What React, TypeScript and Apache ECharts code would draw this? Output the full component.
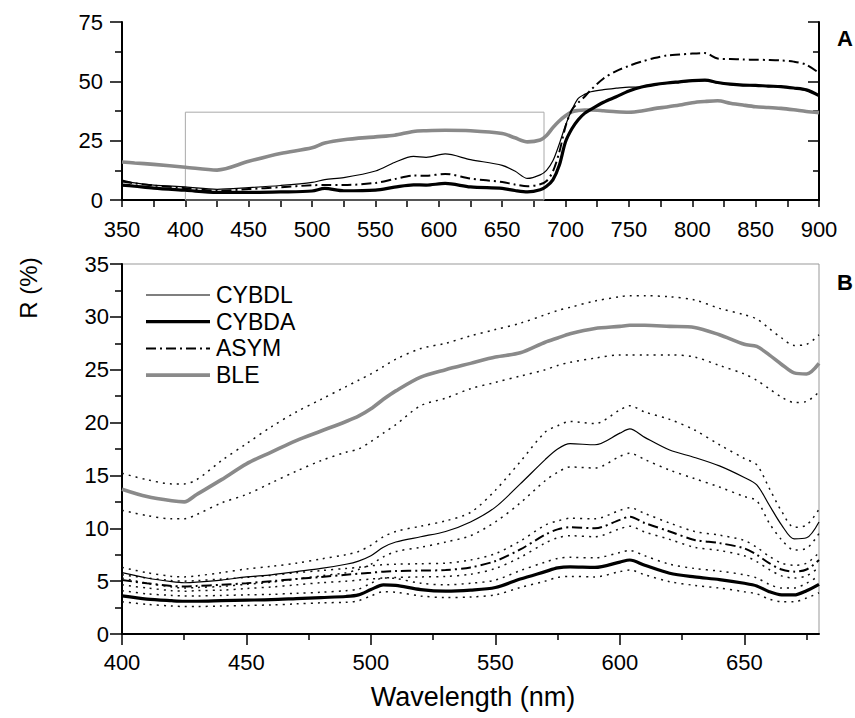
import React, { useEffect, useRef } from 'react';
import * as echarts from 'echarts';

// ---------- Panel A (350–900 nm) ----------
const wlA = [350, 360, 375, 400, 425, 450, 475, 500, 510, 525, 550, 565, 580, 590, 605, 625, 650, 660, 670, 680, 685, 690, 695, 700, 705, 710, 715, 720, 730, 740, 750, 760, 770, 780, 790, 800, 810, 820, 830, 840, 850, 860, 870, 880, 890, 900];
const bleA = [16.0, 15.6, 15.0, 13.8, 12.6, 16.3, 19.6, 22.0, 24.0, 25.4, 26.6, 27.3, 28.9, 29.2, 29.4, 29.2, 28.0, 26.2, 24.5, 25.3, 27.2, 30.5, 33.3, 35.5, 37.2, 37.7, 37.9, 37.9, 37.6, 37.2, 37.0, 37.5, 38.5, 39.2, 40.0, 41.0, 41.5, 41.8, 40.8, 40.0, 39.3, 39.0, 38.6, 38.0, 37.3, 36.8];
const cybdaA = [6.3, 5.8, 5.0, 4.1, 3.2, 3.2, 3.4, 3.8, 4.9, 3.9, 4.2, 5.4, 6.4, 6.3, 7.0, 5.5, 4.9, 4.0, 3.4, 4.3, 5.8, 8.5, 14.5, 24.5, 30.0, 33.8, 36.5, 38.2, 41.2, 43.5, 45.9, 47.6, 48.6, 49.3, 49.8, 50.3, 50.5, 49.5, 48.8, 48.4, 48.3, 48.0, 47.8, 47.2, 46.4, 44.0];
const cybdlA = [8.4, 7.2, 6.3, 5.5, 4.5, 5.2, 6.1, 7.4, 8.6, 9.4, 12.2, 15.8, 18.4, 18.0, 19.4, 17.0, 14.6, 12.2, 9.1, 10.6, 12.5, 16.5, 23.5, 31.5, 38.0, 42.8, 44.5, 45.6, 46.5, 47.1, 47.6, 47.6, 48.4, 49.1, 49.6, 50.1, 50.3, 49.3, 48.6, 48.2, 48.1, 47.8, 47.6, 47.0, 46.2, 43.8];
const asymA = [7.8, 7.0, 6.1, 5.0, 3.9, 4.6, 5.4, 6.2, 6.3, 6.3, 7.2, 8.8, 10.3, 10.2, 11.0, 9.0, 7.6, 6.5, 5.8, 6.6, 8.0, 12.0, 20.0, 31.0, 38.0, 41.0, 43.5, 46.4, 51.2, 54.3, 56.5, 58.3, 59.8, 60.9, 61.3, 61.7, 61.9, 59.6, 59.4, 59.2, 59.1, 59.0, 58.8, 58.3, 57.0, 53.5];
const zoomBoxX = [400, 683];
const zoomBoxY = [0, 37];

// ---------- Panel B (400–680 nm) ----------
const wlB = [400, 410, 420, 425, 430, 440, 450, 460, 470, 480, 490, 495, 500, 505, 510, 520, 530, 540, 550, 560, 570, 575, 580, 590, 600, 604, 610, 620, 630, 640, 650, 655, 660, 665, 670, 675, 680];
const bleB = [13.7, 13.0, 12.6, 12.5, 13.2, 14.6, 16.1, 17.2, 18.3, 19.2, 20.1, 20.6, 21.3, 22.2, 23.0, 24.3, 25.0, 25.6, 26.2, 26.6, 27.6, 28.0, 28.4, 28.9, 29.1, 29.2, 29.2, 29.1, 29.0, 28.3, 27.4, 27.2, 26.4, 25.5, 24.7, 24.6, 25.6];
const bleBHi = [15.2, 14.6, 14.2, 14.2, 14.6, 16.4, 18.0, 19.6, 21.0, 22.2, 23.4, 24.0, 24.6, 25.3, 26.0, 27.0, 27.5, 28.2, 28.8, 29.4, 30.2, 30.6, 30.9, 31.5, 31.9, 32.0, 32.0, 31.9, 31.6, 30.8, 30.2, 29.8, 28.9, 28.0, 27.3, 27.4, 28.3];
const bleBLo = [11.7, 11.2, 10.9, 10.9, 11.3, 12.4, 13.2, 14.3, 15.4, 16.4, 17.2, 17.5, 18.2, 19.0, 19.8, 21.6, 22.3, 23.2, 23.8, 24.4, 25.0, 25.4, 25.7, 26.1, 26.4, 26.4, 26.4, 26.4, 26.2, 25.4, 24.6, 24.0, 23.2, 22.4, 21.9, 22.0, 22.9];
const cybdlB = [5.8, 5.3, 4.95, 4.85, 4.9, 5.1, 5.4, 5.6, 5.9, 6.2, 6.6, 6.9, 7.4, 8.2, 8.7, 9.2, 9.7, 10.6, 12.0, 14.2, 16.5, 17.5, 18.0, 17.9, 19.0, 19.4, 18.6, 17.4, 16.7, 15.9, 14.8, 14.1, 12.2, 10.3, 9.0, 9.1, 10.6];
const cybdlBHi = [6.3, 5.8, 5.45, 5.4, 5.5, 5.8, 6.15, 6.4, 6.7, 7.1, 7.5, 7.8, 8.4, 9.2, 9.7, 10.2, 10.7, 11.5, 13.6, 16.3, 19.1, 19.7, 20.1, 19.9, 21.2, 21.6, 21.0, 20.3, 19.3, 17.9, 16.6, 16.0, 13.8, 11.6, 10.1, 10.3, 11.8];
const cybdlBLo = [5.3, 4.8, 4.45, 4.35, 4.4, 4.5, 4.7, 4.9, 5.2, 5.5, 5.8, 6.1, 6.6, 7.3, 7.8, 8.2, 8.7, 9.3, 10.6, 12.4, 14.5, 15.3, 15.8, 15.7, 16.8, 17.1, 16.5, 15.5, 14.7, 13.9, 13.0, 12.6, 10.5, 8.9, 7.95, 8.1, 9.5];
const asymB = [5.1, 4.8, 4.55, 4.5, 4.55, 4.65, 4.8, 5.0, 5.2, 5.4, 5.6, 5.7, 5.8, 5.9, 5.95, 6.0, 6.05, 6.3, 6.9, 8.0, 9.4, 9.9, 10.1, 10.0, 10.8, 11.1, 10.5, 9.7, 8.9, 8.6, 8.1, 7.5, 6.7, 6.1, 5.9, 6.1, 7.0];
const asymBHi = [5.6, 5.3, 5.05, 5.0, 5.05, 5.2, 5.35, 5.55, 5.8, 6.0, 6.2, 6.3, 6.45, 6.55, 6.6, 6.65, 6.7, 7.0, 7.6, 8.8, 10.3, 10.7, 10.95, 10.9, 11.7, 11.95, 11.4, 10.5, 9.7, 9.35, 8.85, 8.2, 7.35, 6.7, 6.5, 6.7, 7.7];
const asymBLo = [4.65, 4.35, 4.1, 4.05, 4.1, 4.15, 4.3, 4.45, 4.65, 4.85, 5.0, 5.1, 5.2, 5.3, 5.35, 5.4, 5.45, 5.65, 6.2, 7.25, 8.6, 9.1, 9.3, 9.2, 9.95, 10.2, 9.65, 8.95, 8.2, 7.9, 7.4, 6.85, 6.1, 5.5, 5.3, 5.5, 6.3];
const cybdaB = [3.6, 3.3, 3.15, 3.1, 3.1, 3.15, 3.2, 3.25, 3.35, 3.45, 3.55, 3.7, 4.2, 4.65, 4.6, 4.2, 4.05, 4.15, 4.4, 5.2, 5.9, 6.25, 6.35, 6.3, 6.8, 7.0, 6.5, 5.75, 5.4, 5.15, 4.8, 4.55, 4.0, 3.7, 3.7, 4.1, 4.7];
const cybdaBHi = [4.1, 3.8, 3.65, 3.6, 3.6, 3.65, 3.7, 3.75, 3.85, 3.95, 4.1, 4.25, 4.8, 5.3, 5.25, 4.8, 4.65, 4.8, 5.1, 6.0, 6.8, 7.15, 7.25, 7.2, 7.7, 7.9, 7.4, 6.6, 6.2, 5.95, 5.6, 5.3, 4.7, 4.35, 4.35, 4.8, 5.5];
const cybdaBLo = [3.05, 2.8, 2.65, 2.6, 2.6, 2.65, 2.7, 2.75, 2.85, 2.95, 3.0, 3.15, 3.6, 4.0, 3.95, 3.6, 3.45, 3.5, 3.7, 4.4, 5.0, 5.35, 5.45, 5.4, 5.9, 6.05, 5.6, 4.95, 4.6, 4.35, 4.0, 3.8, 3.3, 3.05, 3.05, 3.4, 3.9];

const majorTicksB = [400, 450, 500, 550, 600, 650];
const minorTicksB = [425, 475, 525, 575, 625, 675];
const legendNames = ['CYBDL', 'CYBDA', 'ASYM', 'BLE'];

const GRAY = '#8a8a8a';
const FONT = 'Liberation Sans, Arial, Helvetica, sans-serif';

const styles: Record<string, any> = {
  CYBDL: { color: '#000', width: 1.2, type: 'solid' },
  CYBDA: { color: '#000', width: 3.2, type: 'solid' },
  ASYM: { color: '#000', width: 2, type: [10, 4, 2, 4] },
  BLE: { color: GRAY, width: 3.6, type: 'solid' },
};
const bandStyle = { color: '#111', width: 1.5, type: [2, 5] };

const pairs = (xs: number[], ys: number[]) => xs.map((x, i) => [x, ys[i]]);

function lineSeries(name: string, xi: number, yi: number, data: number[][], ls: any, extra: any = {}) {
  return {
    type: 'line',
    name,
    xAxisIndex: xi,
    yAxisIndex: yi,
    data,
    symbol: 'none',
    smooth: 0.3,
    lineStyle: { color: ls.color, width: ls.width, type: ls.type },
    itemStyle: { color: ls.color },
    silent: true,
    ...extra,
  };
}

export default function App() {
  const ref = useRef<HTMLDivElement>(null);
  useEffect(() => {
    if (!ref.current) return;
    const chart = echarts.init(ref.current, undefined, { renderer: 'svg' });
    const axisLine = { show: true, onZero: false, lineStyle: { color: '#000', width: 2 } };
    const tickStyle = { color: '#000', width: 1.5 };
    const label = { fontSize: 22, color: '#000', fontFamily: FONT };

    const series: any[] = [];
    // Panel A
    series.push(lineSeries('BLE', 0, 0, pairs(wlA, bleA), styles.BLE, {
      markArea: {
        silent: true,
        label: { show: false },
        itemStyle: { color: 'rgba(0,0,0,0)', borderColor: '#aaa', borderWidth: 1 },
        data: [[{ xAxis: zoomBoxX[0], yAxis: zoomBoxY[0] }, { xAxis: zoomBoxX[1], yAxis: zoomBoxY[1] }]],
      },
    }));
    series.push(lineSeries('CYBDL', 0, 0, pairs(wlA, cybdlA), styles.CYBDL));
    series.push(lineSeries('ASYM', 0, 0, pairs(wlA, asymA), styles.ASYM));
    series.push(lineSeries('CYBDA', 0, 0, pairs(wlA, cybdaA), styles.CYBDA));
    // Panel B bands
    const bands: [string, number[]][] = [
      ['BLE +SD', bleBHi], ['BLE -SD', bleBLo],
      ['CYBDL +SD', cybdlBHi], ['CYBDL -SD', cybdlBLo],
      ['ASYM +SD', asymBHi], ['ASYM -SD', asymBLo],
      ['CYBDA +SD', cybdaBHi], ['CYBDA -SD', cybdaBLo],
    ];
    bands.forEach(([n, d]) => series.push(lineSeries(n, 1, 2, pairs(wlB, d), bandStyle)));
    series.push(lineSeries('BLE', 1, 2, pairs(wlB, bleB), styles.BLE));
    series.push(lineSeries('CYBDL', 1, 2, pairs(wlB, cybdlB), styles.CYBDL));
    series.push(lineSeries('ASYM', 1, 2, pairs(wlB, asymB), styles.ASYM));
    series.push(lineSeries('CYBDA', 1, 2, pairs(wlB, cybdaB), styles.CYBDA));

    // Legend drawn with graphic lines + real text
    const legendGraphics: any[] = [];
    legendNames.forEach((n, i) => {
      const y = 295 + i * 26.7;
      const s = styles[n];
      legendGraphics.push({
        type: 'line',
        shape: { x1: 146, y1: y, x2: 210, y2: y },
        style: { stroke: s.color, lineWidth: s.width, lineDash: Array.isArray(s.type) ? s.type : null },
        silent: true,
      });
      legendGraphics.push({
        type: 'text',
        x: 216,
        y,
        style: { text: n, fontSize: 23, lineHeight: 23, fontFamily: FONT, fill: '#000', textVerticalAlign: 'middle', textAlign: 'left' },
        silent: true,
      });
    });

    chart.setOption({
      animation: false,
      textStyle: { fontFamily: FONT },
      grid: [
        { left: 122, top: 22, width: 697, height: 178, show: false },
        { left: 122, top: 264, width: 697, height: 370, show: true, borderColor: '#999', borderWidth: 1, backgroundColor: 'rgba(0,0,0,0)' },
      ],
      xAxis: [
        {
          gridIndex: 0, type: 'value', min: 350, max: 900, interval: 50,
          axisLine, axisTick: { show: true, length: 7, lineStyle: tickStyle },
          minorTick: { show: true, splitNumber: 2, length: 7, lineStyle: tickStyle },
          splitLine: { show: false }, minorSplitLine: { show: false },
          axisLabel: { ...label, margin: 18 },
        },
        {
          gridIndex: 1, type: 'value', min: 400, max: 680, position: 'bottom',
          axisLine, axisTick: { show: true, length: 11, lineStyle: tickStyle, customValues: majorTicksB },
          splitLine: { show: false },
          axisLabel: { ...label, margin: 17, customValues: majorTicksB },
        },
        {
          gridIndex: 1, type: 'value', min: 400, max: 680, position: 'bottom',
          axisLine: { show: false }, axisTick: { show: true, length: 6, lineStyle: tickStyle, customValues: minorTicksB },
          splitLine: { show: false }, axisLabel: { show: false },
        },
      ],
      yAxis: [
        {
          gridIndex: 0, type: 'value', min: 0, max: 75, interval: 25, position: 'left',
          axisLine, axisTick: { show: true, length: 12, lineStyle: tickStyle },
          minorTick: { show: true, splitNumber: 2, length: 7, lineStyle: tickStyle },
          splitLine: { show: false }, axisLabel: { ...label, margin: 19 },
        },
        {
          gridIndex: 0, type: 'value', min: 0, max: 75, interval: 25, position: 'right',
          axisLine, axisTick: { show: true, inside: true, length: 11, lineStyle: tickStyle },
          minorTick: { show: true, splitNumber: 2, length: 6, lineStyle: tickStyle },
          splitLine: { show: false }, axisLabel: { show: false },
        },
        {
          gridIndex: 1, type: 'value', min: 0, max: 35, interval: 5, position: 'left',
          axisLine, axisTick: { show: true, length: 12, lineStyle: tickStyle },
          minorTick: { show: true, splitNumber: 2, length: 7, lineStyle: tickStyle },
          splitLine: { show: false }, axisLabel: { ...label, margin: 13 },
        },
      ],
      graphic: [
        { type: 'text', x: 845, y: 38, style: { text: 'A', fontSize: 22, fontWeight: 'bold', fontFamily: FONT, fill: '#000', textAlign: 'center', textVerticalAlign: 'middle' }, silent: true },
        { type: 'text', x: 845, y: 282, style: { text: 'B', fontSize: 22, fontWeight: 'bold', fontFamily: FONT, fill: '#000', textAlign: 'center', textVerticalAlign: 'middle' }, silent: true },
        { type: 'text', x: 28, y: 288, rotation: Math.PI / 2, style: { text: 'R (%)', fontSize: 24, fontFamily: FONT, fill: '#000', textAlign: 'center', textVerticalAlign: 'middle' }, silent: true },
        { type: 'text', x: 473, y: 697, style: { text: 'Wavelength (nm)', fontSize: 27, fontFamily: FONT, fill: '#000', textAlign: 'center', textVerticalAlign: 'middle' }, silent: true },
        ...legendGraphics,
      ],
      series,
    });
    return () => chart.dispose();
  }, []);
  return <div ref={ref} style={{ position: 'fixed', left: 0, top: 0, width: 855, height: 718, background: '#fff' }} />;
}
